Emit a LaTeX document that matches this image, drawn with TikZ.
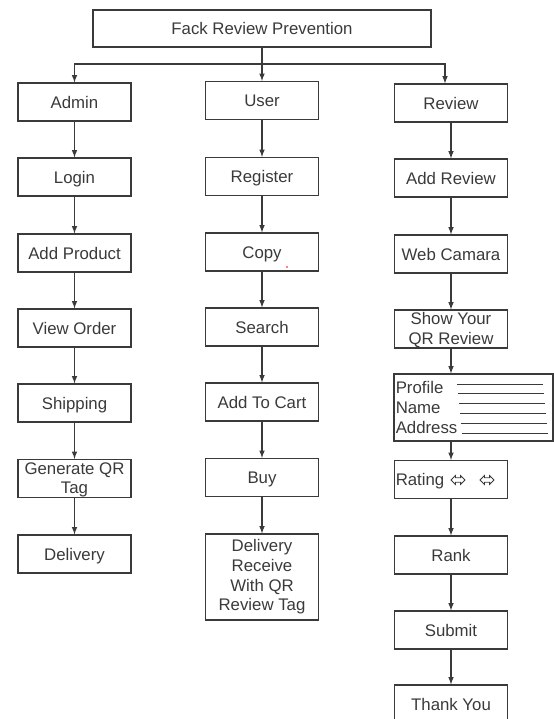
\documentclass[tikz,border=0pt]{standalone}
\usepackage{fontspec}
\setmainfont{Liberation Sans}
\usetikzlibrary{shapes.arrows}
\definecolor{ink}{HTML}{3A3A3A}

\begin{document}
\begin{tikzpicture}[x=0.75pt, y=-0.75pt,
    box/.style={draw=ink, line width=0.9pt, text=ink, align=center, minimum width=84.75pt, minimum height=28.5pt, inner xsep=2pt, inner ysep=0pt, text height=9pt, text depth=0pt, font=\fontsize{12.6}{14.8}\selectfont},
    multi/.style={text height={}, text depth={}},
    field/.style={anchor=west, align=left, inner sep=0pt, text=ink, font=\fontsize{12.6}{15}\selectfont},
    rate/.style={double arrow, draw=ink, line width=0.6pt, minimum height=10.5pt, inner sep=1.4pt, double arrow head extend=1.6pt}]
    \def\colA{74.5};
    \def\colU{262};
    \def\colR{451};
    \useasboundingbox (0,0) rectangle (554,719);
    \clip (0,0) rectangle (554,719);

    \node[box, minimum width=253.5pt, minimum height=27.75pt] (top) at (262, 28.5) {Fack Review Prevention};
    \coordinate (bus) at (\colU, 64);

    % admin column
    \node[box] (admin) at (\colA, 102) {Admin};
    \node[box] (login) at (\colA, 177) {Login};
    \node[box] (addprod) at (\colA, 253) {Add Product};
    \node[box] (vieworder) at (\colA, 328) {View Order};
    \node[box] (shipping) at (\colA, 403) {Shipping};
    \node[box, multi] (genqr) at (\colA, 478.5) {\rule{0pt}{11pt}Generate QR\\Tag};
    \node[box] (delivery) at (\colA, 554) {Delivery};

    % user column
    \node[box] (user) at (\colU, 100.5) {User};
    \node[box] (register) at (\colU, 176.5) {Register};
    \node[box] (copy) at (\colU, 252) {Copy};
    \node[box] (search) at (\colU, 327) {Search};
    \node[box] (cart) at (\colU, 402) {Add To Cart};
    \node[box] (buy) at (\colU, 477.5) {Buy};
    \node[box, multi, minimum height=64.5pt] (receive) at (\colU, 577) {Delivery\\Receive\\With QR\\Review Tag};
    \fill[red] (287, 267) circle (0.8);

    % review column
    \node[box] (review) at (\colR, 103) {Review};
    \node[box] (addreview) at (\colR, 178) {Add Review};
    \node[box] (webcam) at (\colR, 254) {Web Camara};
    \node[box, multi] (showqr) at (\colR, 329) {\rule{0pt}{11pt}Show Your\\QR Review};
    \node[box, minimum width=119.25pt, minimum height=50.25pt] (profile) at (473.5, 407.5) {};
    \node[field] (fields) at (395.5, 407) {Profile\\Name\\Address};
    \foreach \i in {0,...,5}
        \draw[ink, line width=0.7pt] (457+\i, 384+9.8*\i) -- ++(86,0);
    \node[box] (rating) at (\colR, 479.5) {};
    \node[field] (ratingtxt) at (395.5, 481.5) {Rating};
    \node[rate] (rt1) at (458, 480) {};
    \node[rate] (rt2) at (487, 480) {};
    \node[box] (rank) at (\colR, 555) {Rank};
    \node[box] (submit) at (\colR, 630) {Submit};
    \node[box] (thanks) at (\colR, 704) {Thank You};

    \draw[->, >=latex, draw=ink, line width=0.9pt] (top.south) to (user.north);
    \draw[->, >=latex, draw=ink, line width=0.9pt] (bus) -| (admin.north);
    \draw[->, >=latex, draw=ink, line width=0.9pt] (bus) -| ([xshift=-4.5pt]review.north);

    \draw[->, >=latex, draw=ink, line width=0.9pt] (admin.south) to (login.north);
    \draw[->, >=latex, draw=ink, line width=0.9pt] (login.south) to (addprod.north);
    \draw[->, >=latex, draw=ink, line width=0.9pt] (addprod.south) to (vieworder.north);
    \draw[->, >=latex, draw=ink, line width=0.9pt] (vieworder.south) to (shipping.north);
    \draw[->, >=latex, draw=ink, line width=0.9pt] (shipping.south) to (genqr.north);
    \draw[->, >=latex, draw=ink, line width=0.9pt] (genqr.south) to (delivery.north);

    \draw[->, >=latex, draw=ink, line width=0.9pt] (user.south) to (register.north);
    \draw[->, >=latex, draw=ink, line width=0.9pt] (register.south) to (copy.north);
    \draw[->, >=latex, draw=ink, line width=0.9pt] (copy.south) to (search.north);
    \draw[->, >=latex, draw=ink, line width=0.9pt] (search.south) to (cart.north);
    \draw[->, >=latex, draw=ink, line width=0.9pt] (cart.south) to (buy.north);
    \draw[->, >=latex, draw=ink, line width=0.9pt] (buy.south) to (receive.north);

    \draw[->, >=latex, draw=ink, line width=0.9pt] (review.south) to (addreview.north);
    \draw[->, >=latex, draw=ink, line width=0.9pt] (addreview.south) to (webcam.north);
    \draw[->, >=latex, draw=ink, line width=0.9pt] (webcam.south) to (showqr.north);
    \draw[->, >=latex, draw=ink, line width=0.9pt] (showqr.south) to (showqr.south |- profile.north);
    \draw[->, >=latex, draw=ink, line width=0.9pt] (showqr.south |- profile.south) to (rating.north);
    \draw[->, >=latex, draw=ink, line width=0.9pt] (rating.south) to (rank.north);
    \draw[->, >=latex, draw=ink, line width=0.9pt] (rank.south) to (submit.north);
    \draw[->, >=latex, draw=ink, line width=0.9pt] (submit.south) to (thanks.north);
  \end{tikzpicture}
\end{document}
